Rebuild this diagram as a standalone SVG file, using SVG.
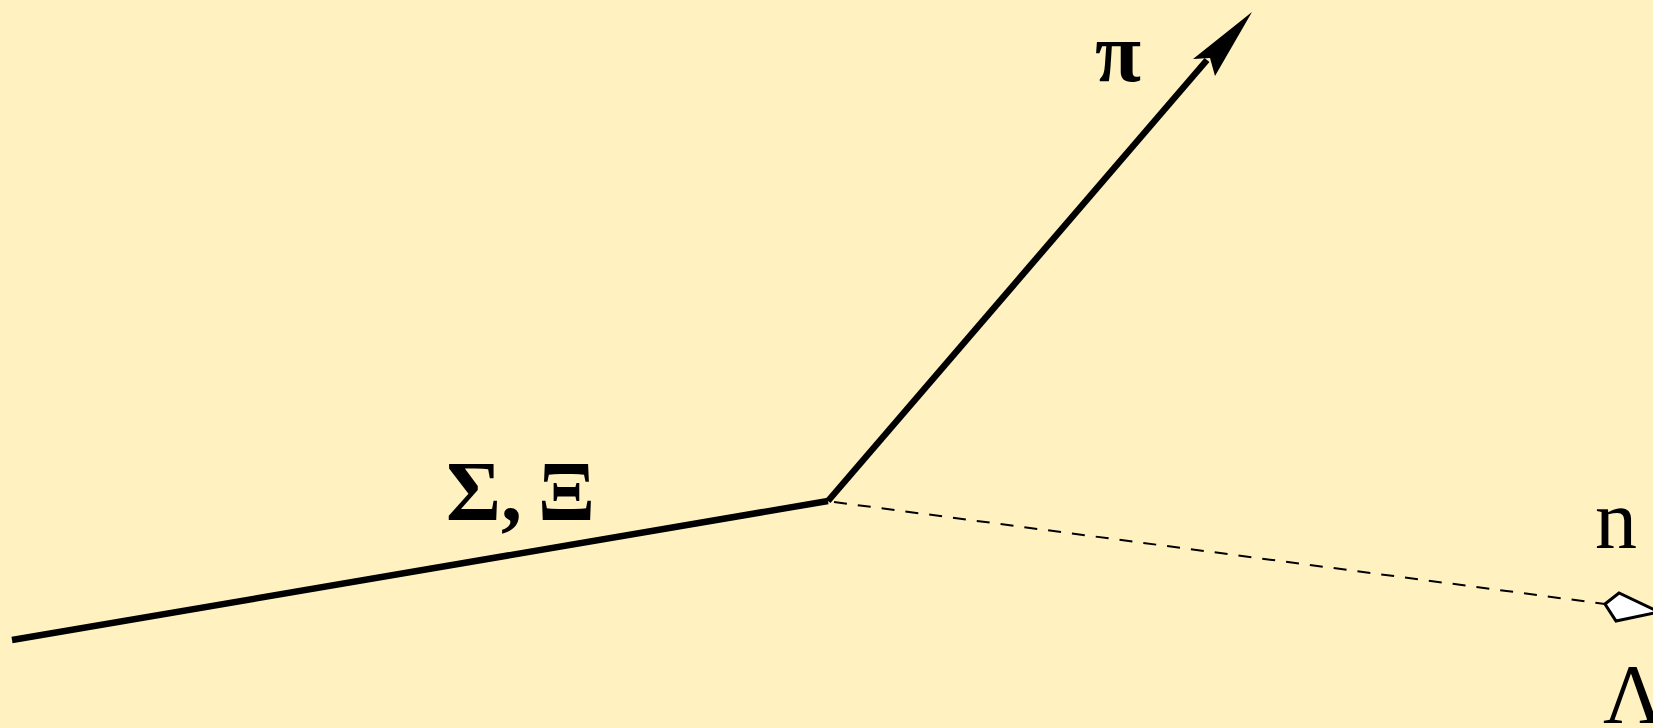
<svg xmlns="http://www.w3.org/2000/svg" width="1653" height="728" viewBox="0 0 1653 728">
<style>
.trk{fill:none;stroke:#000;stroke-width:6.5}
.neu{fill:none;stroke:#000;stroke-width:2;stroke-dasharray:13 11}
text{fill:#000}
</style>
<rect width="1653" height="728" fill="#fff2c0"/>
<g id="connectors">
<path class="trk" d="M12,640 L828,501"/>
<path class="trk" d="M828,501 L1207,60"/>
<path d="M1252,12 L1193,59 L1210,58 L1215,76 Z" fill="#000"/>
<path class="neu" d="M834,502 L1605,604"/>
</g>
<g id="sigma-xi"><text x="446" y="520" font-family="Liberation Serif, serif" font-weight="bold" font-size="84" word-spacing="-5">Σ, Ξ</text></g>
<g id="pion"><text x="1095" y="81" font-family="Liberation Serif, serif" font-weight="bold" font-size="84">π</text></g>
<g id="neutron"><text x="1595" y="548" font-family="Liberation Serif, serif" font-size="84">n</text>
<polygon points="1605,604 1619,593 1659,612 1616,621" fill="#fff" stroke="#000" stroke-width="3"/></g>
<g id="lambda"><text x="1603" y="723" font-family="Liberation Serif, serif" font-size="84">Λ</text></g>
</svg>
